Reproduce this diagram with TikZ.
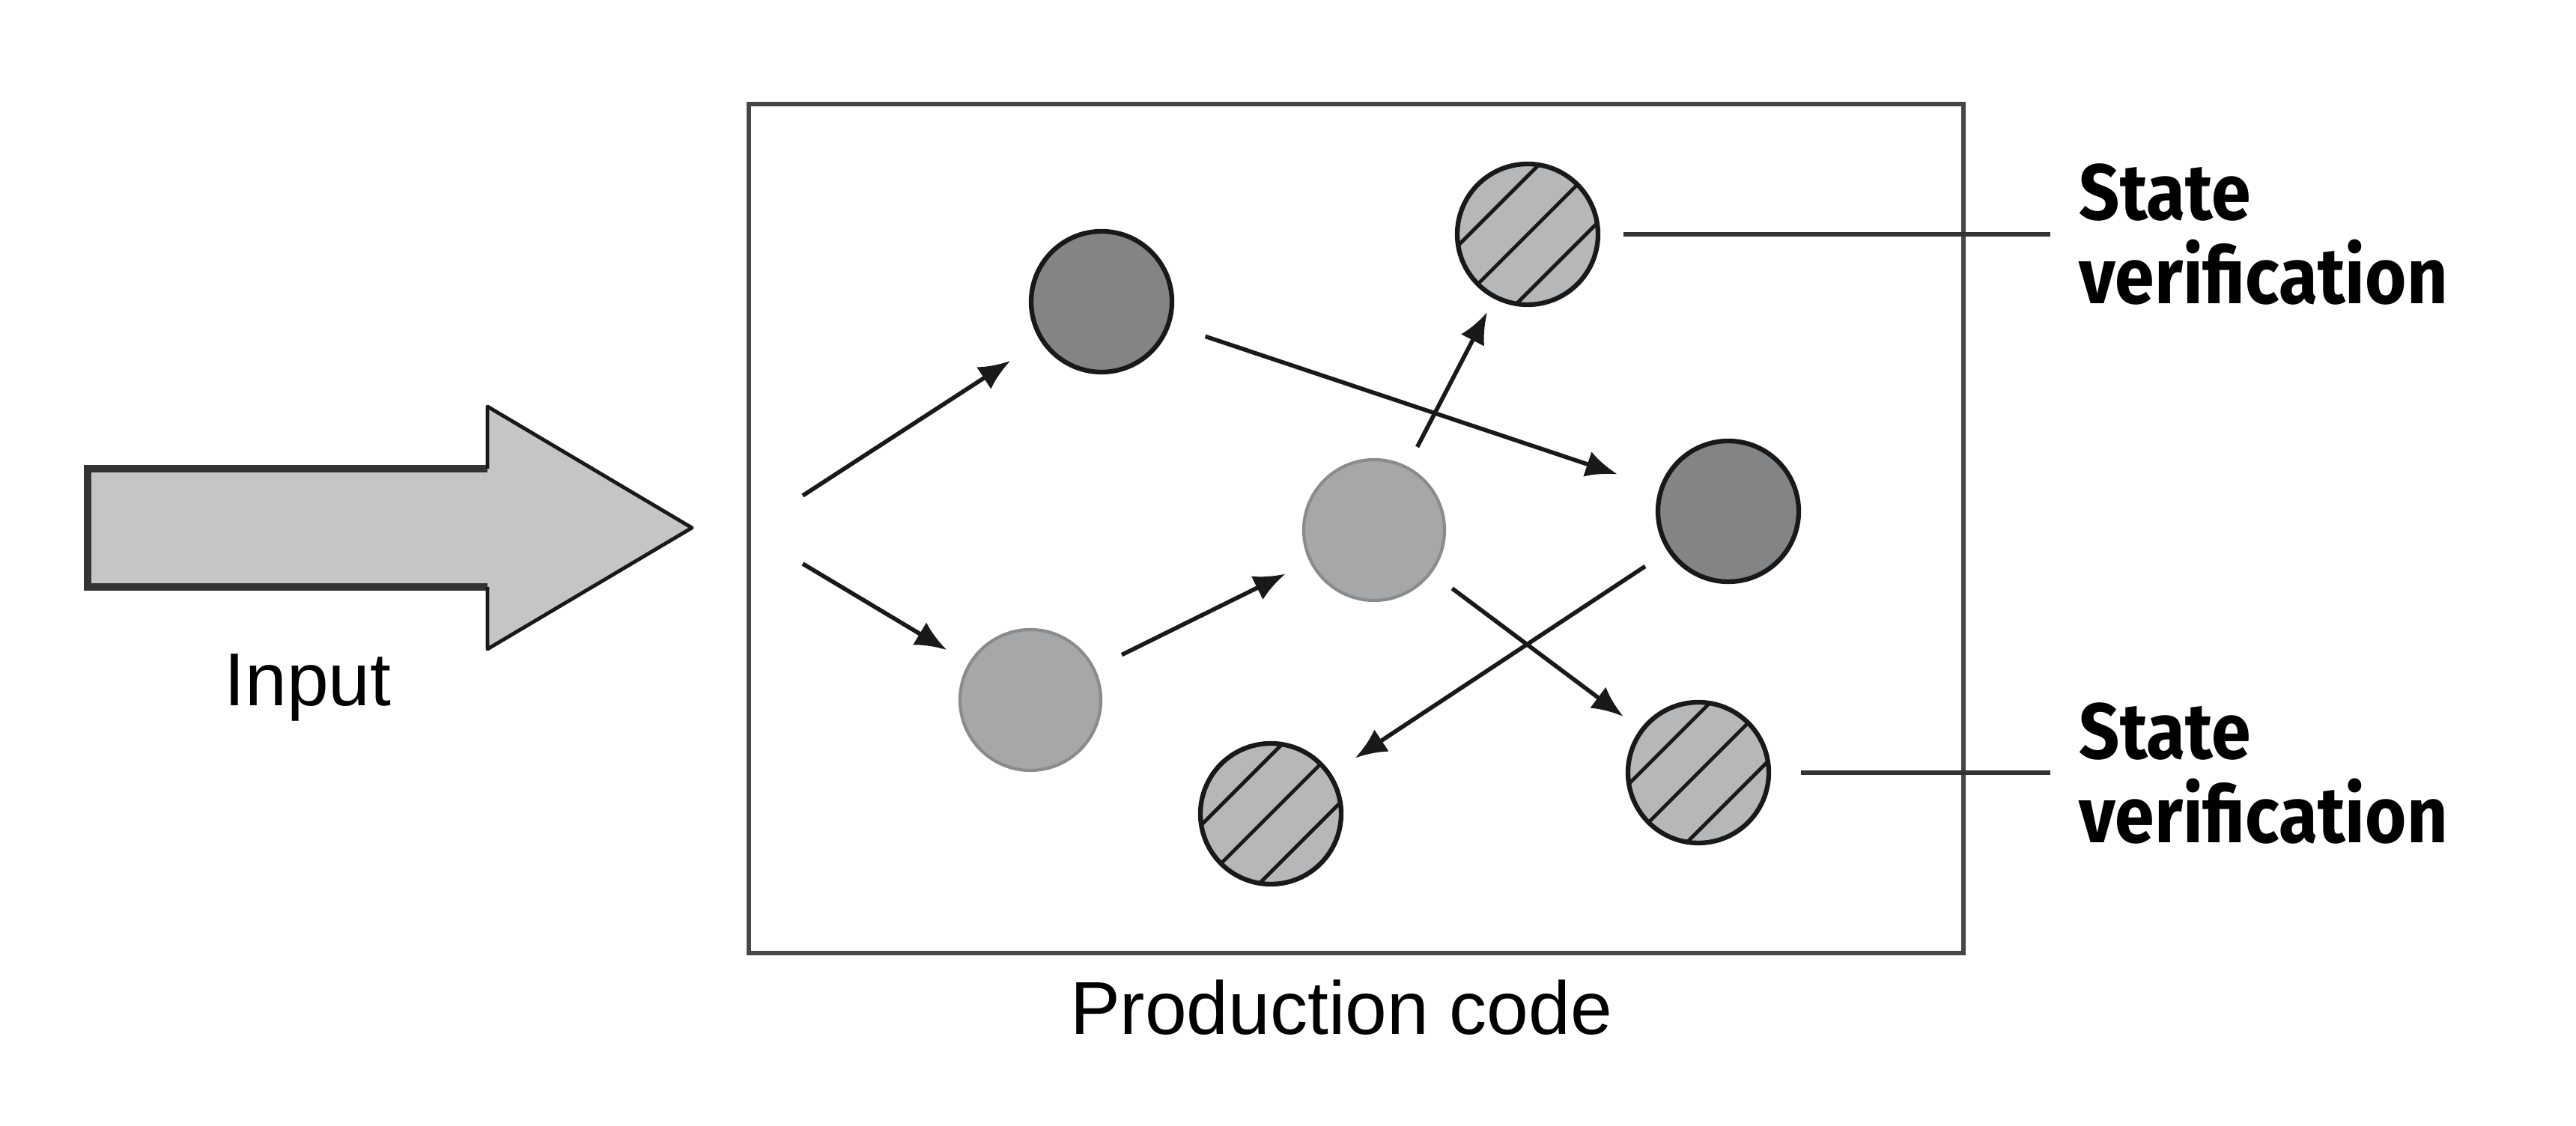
\documentclass[tikz,border=0pt]{standalone}
\usepackage{fontspec}
\setmainfont{Liberation Sans}
\newfontfamily\verifont{Fira Sans}[FakeStretch=0.9]
\usetikzlibrary{arrows.meta}

\definecolor{grigiofreccia}{RGB}{196,197,196}
\definecolor{grigiochiaro}{RGB}{166,167,169}
\definecolor{bordochiaro}{RGB}{138,139,141}
\definecolor{grigioscuro}{RGB}{131,132,134}
\definecolor{grigiotratt}{RGB}{181,183,184}
\definecolor{bordoscatola}{RGB}{70,70,70}

\begin{document}
\begin{tikzpicture}[
    nodo/.style={circle, minimum size=1.88cm, inner sep=0pt},
    chiaro/.style={nodo, fill=grigiochiaro, draw=bordochiaro, line width=1.2pt},
    scuro/.style={nodo, fill=grigioscuro, draw=black!90, line width=1.8pt},
    tratteggiato/.style={nodo, fill=grigiotratt, draw=black!90, line width=1.8pt,
        path picture={
            \foreach \off in {-0.55, 0, 0.55}
                \draw[line width=1.4pt, black!90] (path picture bounding box.center)
                    ++(135:\off) ++(225:1.2) -- ++(45:2.4);}},
    freccia/.style={line width=1.6pt, black!90, -{Latex[length=12pt, width=10pt]}},
    verifica/.style={anchor=west, align=left, inner xsep=0.38cm, inner ysep=0pt,
        font=\verifont\bfseries\fontsize{30}{32}\selectfont},
    testo/.style={anchor=base, inner sep=0pt, font=\fontsize{28.5}{30}\selectfont}
]
    \useasboundingbox (0, 0) rectangle (34.4, 15.04);
    %freccia di ingresso
    \fill[grigiofreccia] (1.17, 8.78) -- (6.51, 8.78) -- (6.51, 9.61) -- (9.24, 7.99)
        -- (6.51, 6.37) -- (6.51, 7.20) -- (1.17, 7.20) -- cycle;
    \draw[line width=2.6pt, black!80] (6.51, 8.78) -- (1.17, 8.78) -- (1.17, 7.20) -- (6.51, 7.20);
    \draw[line width=1.4pt, black!90, line join=round] (6.51, 8.78) -- (6.51, 9.61) -- (9.24, 7.99)
        -- (6.51, 6.37) -- (6.51, 7.20);
    \node[testo] (input) at (4.11, 5.61) {Input};
    %scatola
    \draw[line width=1.5pt, bordoscatola] (10.00, 2.31) rectangle (26.22, 13.65);
    \node[testo] (produzione) at (17.91, 1.22) {Production code};
    %nodi
    \node[scuro] (scuro1) at (14.71, 11.01) {};
    \node[tratteggiato] (tratt1) at (20.40, 11.91) {};
    \node[chiaro] (chiaro2) at (18.35, 7.96) {};
    \node[scuro] (scuro2) at (23.08, 8.21) {};
    \node[chiaro] (chiaro1) at (13.76, 5.69) {};
    \node[tratteggiato] (tratt2) at (16.97, 4.17) {};
    \node[tratteggiato] (tratt3) at (22.68, 4.72) {};
    \coordinate (in1) at (10.72, 8.42);
    \coordinate (in2) at (10.72, 7.51);
    %frecce
    \draw[freccia, shorten >=0.48cm] (in1) -- (scuro1);
    \draw[freccia, shorten >=0.34cm] (in2) -- (chiaro1);
    \draw[freccia, shorten <=0.40cm, shorten >=0.36cm] (chiaro1) -- (chiaro2);
    \draw[freccia, shorten <=0.29cm, shorten >=0.20cm] (chiaro2) -- (tratt1);
    \draw[freccia, shorten <=0.49cm, shorten >=0.59cm] (scuro1) -- (scuro2);
    \draw[freccia, shorten <=0.34cm, shorten >=0.28cm] (chiaro2) -- (tratt3);
    \draw[freccia, shorten <=0.36cm, shorten >=0.38cm] (scuro2) -- (tratt2);
    %etichette
    \node[verifica] (stato1) at (27.38, 11.91) {State\\verification};
    \node[verifica] (stato2) at (27.38, 4.71) {State\\verification};
    \draw[line width=1.6pt, black!80, shorten <=0.31cm] (tratt1.east) -- (tratt1.east -| stato1.west);
    \draw[line width=1.6pt, black!80, shorten <=0.40cm] (tratt3.east) -- (tratt3.east -| stato2.west);
\end{tikzpicture}
\end{document}
